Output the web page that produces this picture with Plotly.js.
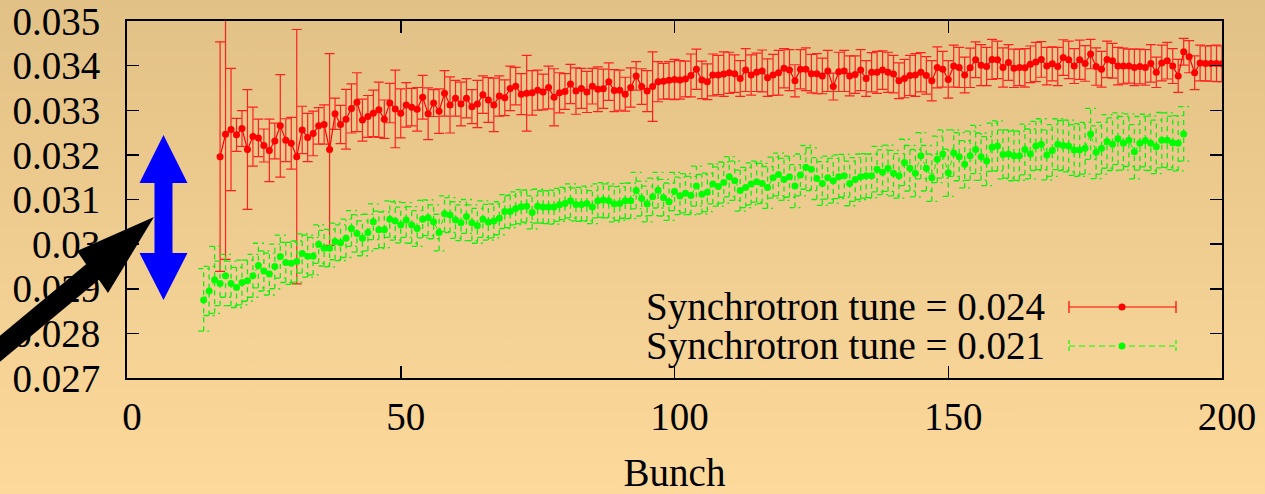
<!DOCTYPE html>
<html><head><meta charset="utf-8">
<script src="https://cdn.plot.ly/plotly-3.0.1.min.js"></script>
<style>
html,body{margin:0;padding:0;}
body{width:1265px;height:494px;overflow:hidden;background:linear-gradient(to bottom,#e2c186,#fdd99b);}
#chart{width:1265px;height:494px;}
</style></head><body><div id="chart"></div>
<script>
// ---------- data ----------
const redName = 'Synchrotron tune = 0.024';
const greenName = 'Synchrotron tune = 0.021';

const redBunch = [17,18,19,20,21,22,23,24,25,26,27,28,29,30,31,32,33,34,35,36,37,38,39,40,41,42,43,44,45,46,47,48,49,50,
51,52,53,54,55,56,57,58,59,60,61,62,63,64,65,66,67,68,69,70,71,72,73,74,75,76,77,78,79,80,81,82,83,84,85,86,87,88,89,90,
91,92,93,94,95,96,97,98,99,100,101,102,103,104,105,106,107,108,109,110,111,112,113,114,115,116,117,118,119,120,
121,122,123,124,125,126,127,128,129,130,131,132,133,134,135,136,137,138,139,140,141,142,143,144,145,146,147,148,149,150,
151,152,153,154,155,156,157,158,159,160,161,162,163,164,165,166,167,168,169,170,171,172,173,174,175,176,177,178,179,180,
181,182,183,184,185,186,187,188,189,190,191,192,193,194,195,196,197,198,199,200];

const redTune = [
0.03196,0.03246,0.03257,0.03245,0.03259,0.03212,0.03241,0.03238,0.03221,0.0321,
0.03231,0.03265,0.03233,0.03226,0.03196,0.03256,0.03239,0.03248,0.03265,0.03268,
0.03212,0.03292,0.03268,0.0328,0.03304,0.03318,0.03278,0.03286,0.03293,0.03301,
0.0328,0.03316,0.03303,0.03293,0.03312,0.03307,0.03302,0.03329,0.03292,0.03316,
0.03298,0.03338,0.03312,0.03327,0.03314,0.03327,0.03308,0.03314,0.03335,0.03323,
0.03312,0.03332,0.03328,0.03349,0.03354,0.03336,0.03338,0.03339,0.03345,0.03341,
0.03351,0.03329,0.03339,0.03342,0.03359,0.03343,0.03349,0.03341,0.03354,0.03347,
0.03348,0.03364,0.03344,0.03345,0.03336,0.03351,0.03377,0.03353,0.03343,0.03353,
0.03364,0.03365,0.03367,0.03369,0.03368,0.0337,0.03378,0.03392,0.03368,0.03364,
0.03379,0.03379,0.03381,0.03384,0.03382,0.03371,0.0339,0.03379,0.03385,0.03388,
0.03373,0.03379,0.03384,0.03394,0.0339,0.03366,0.03392,0.03392,0.03382,0.03382,
0.03377,0.03388,0.03353,0.03386,0.03388,0.03377,0.0338,0.0339,0.03371,0.03385,
0.03385,0.0339,0.03385,0.03381,0.03366,0.03371,0.03378,0.03379,0.03385,0.03378,
0.03366,0.03396,0.03392,0.03369,0.03399,0.03396,0.03379,0.03395,0.03413,0.03401,
0.03398,0.03414,0.03413,0.03396,0.03407,0.03394,0.03396,0.03395,0.03403,0.03408,
0.03414,0.03399,0.03404,0.03398,0.03418,0.03413,0.03399,0.03413,0.03405,0.03426,
0.03398,0.03392,0.03414,0.03411,0.03399,0.03399,0.03399,0.03396,0.03398,0.03396,
0.03405,0.03385,0.03406,0.03411,0.03399,0.03377,0.03431,0.0342,0.03384,0.03406,
0.03405,0.03405,0.03405,0.03404];

const redErr = [
0.00257,0.0028,0.00137,0.00037,0.0004,0.00134,0.00066,0.00042,0.00037,0.0007,
0.0004,0.00115,0.00048,0.00058,0.00285,0.00053,0.00054,0.0005,0.00041,0.00044,
0.00215,0.00035,0.00043,0.00067,0.00055,0.00066,0.00047,0.00047,0.00052,0.00062,
0.00043,0.00044,0.00087,0.00055,0.0005,0.00042,0.00049,0.00049,0.00058,0.0003,
0.0005,0.00051,0.00063,0.0004,0.00049,0.00044,0.00038,0.00053,0.00042,0.0005,
0.0006,0.00045,0.0004,0.0005,0.00042,0.00046,0.00085,0.0005,0.00045,0.0004,
0.00048,0.00064,0.00045,0.0004,0.00044,0.00052,0.00045,0.00046,0.0004,0.0005,
0.00044,0.00042,0.00047,0.00045,0.00038,0.00044,0.00032,0.0004,0.00046,0.00078,
0.00045,0.0004,0.00042,
0.00045,0.00043,0.0004,0.00048,0.00045,0.00042,0.0004,0.00047,0.00044,0.0005,
0.00046,0.00042,0.0004,0.00048,0.00045,0.00043,0.00047,0.00042,0.00046,0.0005,
0.00044,0.00046,0.00036,0.00044,0.00048,0.00043,0.00045,0.0004,0.00046,0.0003,
0.00044,0.00046,
0.00045,0.00042,0.00046,0.0004,0.00044,0.00047,0.00043,0.00045,0.00042,0.0004,
0.00043,0.00045,0.00048,0.00044,0.00042,0.00045,0.00046,0.0004,0.00042,0.00047,
0.00045,0.0004,0.00044,0.0004,0.00046,0.00043,0.00045,0.00042,0.00044,0.0004,
0.00043,0.00041,0.00043,
0.00041,0.00044,0.0004,0.00042,0.00038,0.00043,0.0004,0.00042,0.00039,0.00044,
0.0004,0.00033,0.00042,0.0004,0.00041,0.00039,0.00042,0.0004,0.00038,0.00041,
0.00039,0.0004,0.00042,0.00034,0.0004,0.00041,0.00039,0.00037,0.0003,0.00036,
0.00038,0.0004,0.00039,0.0004,0.00041,0.0004];

const greenBunch = [14,15,16,17,18,19,20,21,22,23,24,25,26,27,28,29,30,31,32,33,34,35,36,37,38,39,40,41,42,43,44,45,46,47,48,49,50,
51,52,53,54,55,56,57,58,59,60,61,62,63,64,65,66,67,68,69,70,71,72,73,74,75,76,77,78,79,80,81,82,83,84,85,86,87,88,89,90,
91,92,93,94,95,96,97,98,99,100,101,102,103,104,105,106,107,108,109,110,111,112,113,114,115,116,117,118,119,120,
121,122,123,124,125,126,127,128,129,130,131,132,133,134,135,136,137,138,139,140,141,142,143,144,145,146,147,148,149,150,
151,152,153,154,155,156,157,158,159,160,161,162,163,164,165,166,167,168,169,170,171,172,173,174,175,176,177,178,179,180,
181,182,183,184,185,186,187,188,189,190,191,192,193];

const greenTune = [
0.02875,0.02895,0.0292,0.02912,0.02929,0.02912,0.02903,0.02914,0.02918,0.02929,
0.02952,0.0294,0.02933,0.0295,0.02972,0.02959,0.02957,0.02961,0.02979,0.02973,
0.02973,0.03,0.02991,0.02991,0.03006,0.03003,0.03013,0.03035,0.03024,0.03013,
0.03026,0.0305,0.03032,0.03032,0.03056,0.03052,0.03043,0.03054,0.03043,0.03035,
0.03056,0.03059,0.0305,0.03026,0.03068,0.03065,0.03054,0.03048,0.03062,0.03048,
0.03041,0.03056,0.03049,0.03052,0.03058,0.03073,0.03073,0.0308,0.03084,0.03085,
0.03071,0.03085,0.03083,0.03083,0.03083,0.03088,0.03091,0.03097,0.03089,0.03089,
0.03091,0.03083,0.03097,0.03099,0.03097,0.0309,0.03091,0.03097,0.03097,0.0312,
0.03102,0.0309,0.03106,0.03121,0.03104,0.03095,0.03118,0.03108,0.03114,0.03109,
0.0313,0.03112,0.03116,0.03135,0.03129,0.03138,0.03151,0.03142,0.0312,0.03127,
0.03135,0.0314,0.03136,0.03127,0.03149,0.03156,0.03145,0.03151,0.0313,0.03155,
0.03172,0.03168,0.03147,0.03136,0.03149,0.03142,0.03151,0.03153,0.03136,0.03145,
0.03151,0.03153,0.03153,0.03168,0.03161,0.0317,0.03159,0.03153,0.03183,0.0317,
0.03159,0.03198,0.0317,0.03149,0.0319,0.03202,0.0316,0.03204,0.03196,0.03179,
0.03198,0.03212,0.03196,0.03186,0.03217,0.0322,0.03201,0.03202,0.03198,0.03198,
0.03212,0.03202,0.0322,0.03224,0.032,0.0321,0.03224,0.03221,0.0322,0.03211,
0.03211,0.03215,0.03247,0.03206,0.03215,0.0323,0.03224,0.03236,0.03226,0.03233,
0.03207,0.03226,0.03232,0.03226,0.03218,0.03233,0.03233,0.03227,0.03226,0.03247];

const greenErr = [
0.0007,0.00055,0.00075,0.0005,0.00048,0.0005,0.00045,0.0005,0.00046,0.00048,
0.0005,0.00045,0.00047,0.0005,0.00048,0.00045,0.00047,0.00046,0.00044,0.00047,
0.00042,0.00043,0.0004,0.00042,0.00041,0.0004,0.00043,0.0004,0.00042,0.00039,
0.00041,0.0004,0.00042,0.0004,0.00041,0.00043,0.0004,0.00039,0.00041,0.0004,
0.00042,0.0004,0.00038,0.00041,0.0004,0.00039,0.00041,0.0004,0.00038,0.0004,
0.00039,0.00041,0.0004,
0.00038,0.00037,0.00038,0.00036,0.00037,0.00038,0.00036,0.00037,0.00038,0.00036,
0.00037,0.00038,0.00037,0.00036,0.00038,0.00037,0.00038,0.00039,0.00037,0.00038,
0.00039,0.00038,0.0004,0.00038,0.00039,0.0004,0.00041,0.00039,0.0004,0.00042,
0.0004,0.00041,0.00042,
0.00043,0.00042,0.00044,0.00043,0.00045,0.00044,0.00043,0.00045,0.00044,0.00046,
0.00045,0.00044,0.00046,0.00045,0.00047,0.00046,0.00045,0.00047,0.00046,0.00048,
0.00047,0.00046,0.00048,0.00047,0.00049,0.00048,0.00047,0.00049,0.00048,0.0005,
0.00049,0.00048,
0.0005,0.00049,0.00051,0.0005,0.00049,0.00051,0.0005,0.00052,0.00051,0.0005,
0.00052,0.00051,0.00053,0.00052,0.00051,0.00053,0.00052,0.00054,0.00053,0.00052,
0.00054,0.00053,0.00055,0.00054,0.00053,0.00055,0.00054,0.00056,0.00055,0.00054,
0.00056,0.00055,0.00057,
0.00056,0.00055,0.00057,0.00056,0.00058,0.00057,0.00056,0.00058,0.00057,0.00059,
0.00058,0.00057,0.00059,0.00058,0.0006,0.00059,0.00058,0.0006,0.00059,0.00061,
0.0006,0.00059,0.00061,0.0006,0.00062,0.00061,0.0006,0.00062,0.00061];

const xTickVals = [0,50,100,150,200];
const xTickText = ['0','50','100','150','200'];
const yTickVals = [0.027,0.028,0.029,0.030,0.031,0.032,0.033,0.034,0.035];
const yTickText = ['0.027','0.028','0.029','0.03','0.031','0.032','0.033','0.034','0.035'];

// ---------- styling helpers ----------
const FONT = 'Liberation Serif, Times New Roman, Times, serif';
const RED = '#ff0000', GREEN = '#00ff00';
const CAP = 1.0; // half cap width of dashed green error bars (bunch units)

// dashed green error bars built from the data arrays
const gx = [], gy = [];
for (let i = 0; i < greenBunch.length; i++) {
  const x = greenBunch[i], y = greenTune[i], e = greenErr[i];
  gx.push(x, x, null, x - CAP, x + CAP, null, x - CAP, x + CAP, null);
  gy.push(y - e, y + e, null, y - e, y - e, null, y + e, y + e, null);
}

const traces = [
  {x: redBunch, y: redTune, type: 'scatter', mode: 'lines+markers', name: redName,
   line: {color: RED, width: 1.2}, marker: {color: RED, size: 7},
   error_y: {type: 'data', array: redErr, visible: true, color: '#ff2020', thickness: 1.2, width: 5},
   hoverinfo: 'x+y'},
  {x: gx, y: gy, type: 'scatter', mode: 'lines', name: greenName + ' errors', showlegend: false,
   line: {color: '#10f010', width: 1.3, dash: '5px,4px'}, hoverinfo: 'skip', connectgaps: false},
  {x: greenBunch, y: greenTune, type: 'scatter', mode: 'lines+markers', name: greenName,
   line: {color: GREEN, width: 1, dash: '5px,4px'}, marker: {color: GREEN, size: 7},
   hoverinfo: 'x+y'}
];

// pixel -> paper helpers for decorations (plot frame 127..1222 x 21..378)
const PL = 127, PR = 1222, PT = 21, PB = 378;
const px = v => (v - PL) / (PR - PL);
const py = v => (PB - v) / (PB - PT);
const path = pts => 'M' + pts.map(p => px(p[0]).toFixed(5) + ',' + py(p[1]).toFixed(5)).join('L') + 'Z';

const blueArrow = path([[163.5,135],[187.5,183],[172.5,183],[172.5,253],[187.5,253],[163.5,300],
                        [139.5,253],[154.5,253],[154.5,183],[139.5,183]]);
const blackArrow = path([[154,217],[77,251],[86.1,264.3],[-26.4,357.5],[-13.6,372.9],[98.9,279.7],[108,293]]);

const shapes = [
  {type: 'path', xref: 'paper', yref: 'paper', path: blueArrow, fillcolor: '#0000ff', line: {width: 0}, layer: 'above'},
  {type: 'path', xref: 'paper', yref: 'paper', path: blackArrow, fillcolor: '#000000', line: {width: 0}, layer: 'above'},
  // legend samples
  {type: 'line', xref: 'paper', yref: 'paper', x0: px(1069), x1: px(1176), y0: py(307), y1: py(307), line: {color: RED, width: 1.2}},
  {type: 'line', xref: 'paper', yref: 'paper', x0: px(1069), x1: px(1069), y0: py(301), y1: py(313), line: {color: RED, width: 1.2}},
  {type: 'line', xref: 'paper', yref: 'paper', x0: px(1176), x1: px(1176), y0: py(301), y1: py(313), line: {color: RED, width: 1.2}},
  {type: 'circle', xref: 'paper', yref: 'paper', x0: px(1118.5), x1: px(1125.5), y0: py(303.5), y1: py(310.5), fillcolor: RED, line: {width: 0}},
  {type: 'line', xref: 'paper', yref: 'paper', x0: px(1069), x1: px(1176), y0: py(346), y1: py(346), line: {color: GREEN, width: 1.2, dash: '6px,4px'}},
  {type: 'line', xref: 'paper', yref: 'paper', x0: px(1069), x1: px(1069), y0: py(340), y1: py(352), line: {color: GREEN, width: 1.2, dash: '4px,3px'}},
  {type: 'line', xref: 'paper', yref: 'paper', x0: px(1176), x1: px(1176), y0: py(340), y1: py(352), line: {color: GREEN, width: 1.2, dash: '4px,3px'}},
  {type: 'circle', xref: 'paper', yref: 'paper', x0: px(1118.5), x1: px(1125.5), y0: py(342.5), y1: py(349.5), fillcolor: GREEN, line: {width: 0}}
];

const annotations = [
  {xref: 'paper', yref: 'paper', x: px(1047), y: py(307), xanchor: 'right', yanchor: 'middle', showarrow: false,
   text: redName, font: {family: FONT, size: 39, color: '#000'}},
  {xref: 'paper', yref: 'paper', x: px(1047), y: py(346), xanchor: 'right', yanchor: 'middle', showarrow: false,
   text: greenName, font: {family: FONT, size: 39, color: '#000'}}
];

const axisCommon = {
  ticks: 'inside', ticklen: 12, tickwidth: 1.5, tickcolor: '#000',
  showline: true, linewidth: 2, linecolor: '#000', mirror: 'ticks',
  showgrid: false, zeroline: false, automargin: false, ticklabeloverflow: 'allow',
  tickfont: {family: FONT, size: 39, color: '#000'}
};

const layout = {
  width: 1265, height: 494,
  margin: {l: 127, r: 43, t: 21, b: 116, pad: 0},
  paper_bgcolor: 'rgba(0,0,0,0)', plot_bgcolor: 'rgba(0,0,0,0)',
  showlegend: false,
  font: {family: FONT, size: 39, color: '#000'},
  xaxis: Object.assign({}, axisCommon, {
    range: [0, 200], tickmode: 'array', tickvals: xTickVals, ticktext: xTickText,
    ticklabelstandoff: 3, ticklabelshift: 5,
    title: {text: 'Bunch', font: {family: FONT, size: 39, color: '#000'}, standoff: 26}
  }),
  yaxis: Object.assign({}, axisCommon, {
    range: [0.027, 0.035], tickmode: 'array', tickvals: yTickVals, ticktext: yTickText,
    ticklabelstandoff: 17
  }),
  shapes: shapes,
  annotations: annotations
};

Plotly.newPlot('chart', traces, layout, {displayModeBar: false, staticPlot: true});
</script>
</body></html>
